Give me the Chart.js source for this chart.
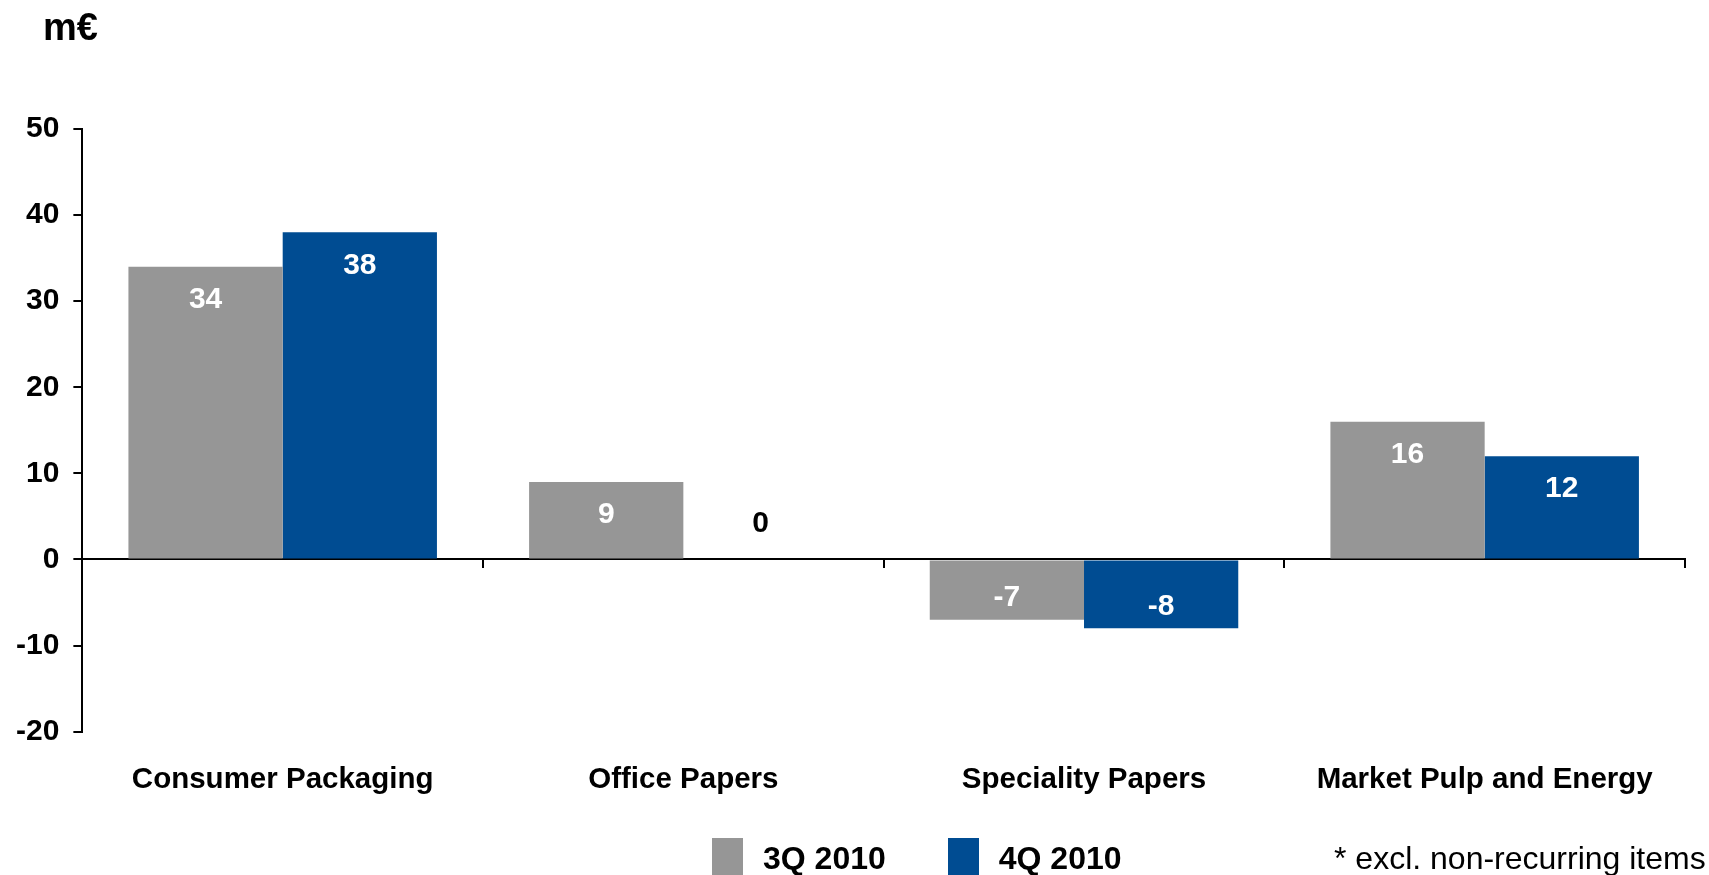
<!DOCTYPE html>
<html lang="en">
<head>
  <meta charset="UTF-8" />
  <title>m€ by segment – 3Q 2010 vs 4Q 2010</title>
  <script src="https://cdn.jsdelivr.net/npm/chart.js"></script>
  <style>
    body {
      margin: 0;
      background: #fff;
      font-family: 'Liberation Sans', Arial, sans-serif;
      overflow: hidden;
    }
    .wrap {
      position: relative;
      width: 1709px;
      height: 875px;
    }
    .unit {
      position: absolute;
      left: 43px;
      top: 8px;
      font-size: 38px;
      font-weight: bold;
      line-height: 1;
    }
    .legend {
      position: absolute;
      left: 712px;
      top: 838px;
      display: flex;
    }
    .legend .item {
      display: flex;
      margin-right: 62px;
      font-size: 32px;
      font-weight: bold;
      line-height: 40px;
    }
    .legend .box {
      width: 31px;
      height: 40px;
      margin-right: 20px;
    }
    .note {
      position: absolute;
      left: 1334px;
      top: 838px;
      font-size: 32px;
      line-height: 40px;
    }
  </style>
</head>
<body>
<div class="wrap">
  <canvas id="chart"></canvas>
  <div class="unit">m€</div>
  <div class="legend" id="legend"></div>
  <div class="note">* excl. non-recurring items</div>
</div>

<script>
const categories = ["Consumer Packaging", "Office Papers", "Speciality Papers", "Market Pulp and Energy"];
const q3_2010 = [34, 9, -7, 16];
const q4_2010 = [38, 0, -8, 12];
const yTicks = [-20, -10, 0, 10, 20, 30, 40, 50];

const FONT = "'Liberation Sans', Arial, sans-serif";
Chart.defaults.font.family = FONT;
Chart.defaults.color = "#000";

// value labels inside the bar ends, black "0" above the axis
const barLabels = {
  id: "barLabels",
  afterDatasetsDraw(chart) {
    const ctx = chart.ctx;
    ctx.save();
    ctx.font = "bold 30px " + FONT;
    ctx.textAlign = "center";
    ctx.textBaseline = "middle";
    chart.data.datasets.forEach((ds, i) => {
      chart.getDatasetMeta(i).data.forEach((bar, j) => {
        const v = ds.data[j];
        let y;
        if (v > 0) { y = bar.y + 33; ctx.fillStyle = "#fff"; }
        else if (v < 0) { y = bar.y - 21.5; ctx.fillStyle = "#fff"; }
        else { y = bar.base - 36; ctx.fillStyle = "#000"; }
        ctx.fillText(String(v), bar.x, y);
      });
    });
    ctx.restore();
  }
};

const chart = new Chart(document.getElementById("chart"), {
  type: "bar",
  data: {
    labels: categories,
    datasets: [
      { label: "3Q 2010", data: q3_2010, backgroundColor: "#969696" },
      { label: "4Q 2010", data: q4_2010, backgroundColor: "#004C92" }
    ]
  },
  options: {
    responsive: true,
    maintainAspectRatio: false,
    animation: false,
    events: [],
    categoryPercentage: 0.77,
    barPercentage: 1.0,
    layout: { padding: { top: 129, left: 2, right: 24, bottom: 46 } },
    plugins: {
      legend: { display: false },
      tooltip: { enabled: false }
    },
    scales: {
      x: {
        offset: true,
        grid: { display: false, drawTicks: false },
        border: { display: false },
        ticks: { padding: 31, maxRotation: 0, font: { size: 29.5, weight: "bold" } }
      },
      x2: {
        type: "category",
        position: { y: 0 },
        offset: true,
        grid: { offset: true, drawOnChartArea: false, tickLength: 8, color: "#000", lineWidth: 2 },
        border: { display: true, color: "#000", width: 2 },
        ticks: { display: false }
      },
      y: {
        min: -20,
        max: 50,
        afterBuildTicks: (scale) => { scale.ticks = yTicks.map(v => ({ value: v })); },
        grid: { drawOnChartArea: false, tickLength: 9, color: "#000", lineWidth: 2 },
        border: { display: true, color: "#000", width: 2 },
        ticks: { padding: 14, font: { size: 30, weight: "bold" } }
      }
    }
  },
  plugins: [barLabels]
});

// legend built from the datasets
const legend = document.getElementById("legend");
chart.data.datasets.forEach(ds => {
  const item = document.createElement("div");
  item.className = "item";
  const box = document.createElement("div");
  box.className = "box";
  box.style.background = ds.backgroundColor;
  const txt = document.createElement("span");
  txt.textContent = ds.label;
  item.appendChild(box);
  item.appendChild(txt);
  legend.appendChild(item);
});
</script>
</body>
</html>
